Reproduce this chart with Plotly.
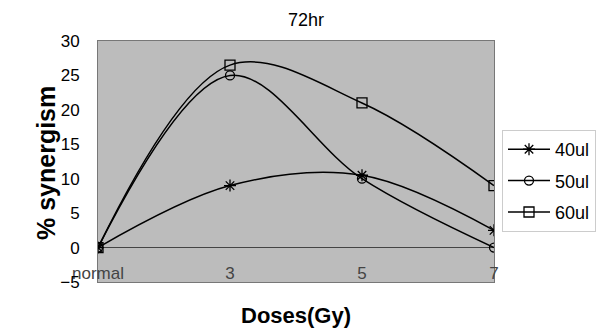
import plotly.graph_objects as go

categories = ["normal", "3", "5", "7"]
s40 = [0, 9, 10.5, 2.5]
s50 = [0, 25, 10, 0]
s60 = [0, 26.5, 21, 9]
series = [("40ul", s40, "asterisk-open", 10), ("50ul", s50, "circle-open", 9), ("60ul", s60, "square-open", 10)]
y_ticks = [-5, 0, 5, 10, 15, 20, 25, 30]

FONT = "Liberation Sans, Arial, sans-serif"
W, H = 605, 336
L, R, T, B = 98, 111, 41, 54
W_plot = W - L - R
H_plot = H - T - B


def px_x(px):
    return (px - L) / W_plot


def px_y(py):
    return (H - B - py) / H_plot


fig = go.Figure()
for i, (name, vals, sym, sz) in enumerate(series):
    fig.add_trace(go.Scatter(
        x=categories, y=vals, name=name, mode="lines+markers",
        line=dict(color="black", width=1.5, shape="spline", smoothing=1),
        marker=dict(symbol=sym, size=sz, color="black", line=dict(color="black", width=1.3)),
        legendgroup=f"g{i}",
    ))

fig.update_layout(
    width=W, height=H,
    margin=dict(l=L, r=R, t=T, b=B, autoexpand=False),
    paper_bgcolor="white", plot_bgcolor="#bcbcbc",
    font=dict(family=FONT, color="black", size=16),
    showlegend=True,
    legend=dict(x=px_x(502), xanchor="left", y=px_y(130), yanchor="top", font=dict(size=18),
                bordercolor="#cccccc", borderwidth=1, bgcolor="white", itemwidth=42,
                tracegroupgap=5, traceorder="grouped"),
    xaxis=dict(type="category", range=[0, 3], showgrid=False, zeroline=False,
               ticks="", ticklabelposition="inside", ticklabeloverflow="allow",
               ticklabelstandoff=0, tickfont=dict(size=17), automargin=False,
               showline=True, linecolor="#777777", linewidth=1, mirror=True),
    yaxis=dict(range=[-5, 30], tickvals=y_ticks, showgrid=False,
               zeroline=True, zerolinecolor="#444444", zerolinewidth=1,
               ticks="", ticklabelstandoff=14, tickfont=dict(size=17), automargin=False,
               showline=True, linecolor="#777777", linewidth=1, mirror=True),
    annotations=[
        dict(text="72hr", x=px_x(306), y=px_y(20), xref="paper", yref="paper", showarrow=False,
             xanchor="center", yanchor="middle", font=dict(size=18)),
        dict(text="<b>Doses(Gy)</b>", x=px_x(296), y=px_y(315), xref="paper", yref="paper",
             showarrow=False, xanchor="center", yanchor="middle", font=dict(size=22)),
        dict(text="<b>% synergism</b>", textangle=-90, x=px_x(46), y=px_y(163), xref="paper",
             yref="paper", showarrow=False, xanchor="center", yanchor="middle", font=dict(size=25)),
    ],
)

fig.write_html("out.html")
